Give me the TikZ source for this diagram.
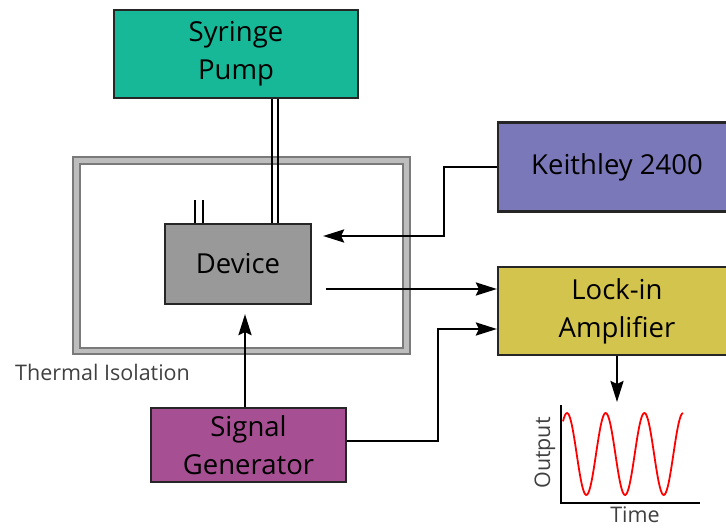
\documentclass[tikz,border=0pt]{standalone}
\usepackage{fontspec}
\setmainfont{Open Sans}
\usepackage{xcolor}
\usetikzlibrary{arrows.meta}

\definecolor{pumpgreen}{HTML}{17B897}
\definecolor{keithblue}{HTML}{7B78B9}
\definecolor{lockyellow}{HTML}{D3C44E}
\definecolor{siggen}{HTML}{A64F92}
\definecolor{devgray}{HTML}{999999}
\definecolor{isogray}{HTML}{BDBDBD}
\definecolor{isoedge}{HTML}{7A7A7A}

\begin{document}
\begin{tikzpicture}[x=1pt,y=-1pt,
    box/.style={draw=black!85,line width=2.2pt,align=center,inner sep=0pt,
      font=\fontsize{27.5}{38}\selectfont},
    arr/.style={-{Stealth[length=21pt,width=13pt,inset=3pt]},line width=2.6pt},
    small/.style={font=\fontsize{21.5}{24}\selectfont,text=black!75,inner sep=0pt}]
    \useasboundingbox (0,0) rectangle (726,529);
    \clip (0,0) rectangle (726,529);
    % thermal isolation
    \draw[isoedge,line width=1.4pt,fill=isogray,even odd rule]
      (73,157) rectangle (410,354) (80,164) rectangle (403,348);
    \node[small,anchor=west] (iso) at (15,372) {Thermal Isolation};
    % instruments
    \node[box,fill=pumpgreen,minimum width=244pt,minimum height=88pt] (pump) at (236,54) {Syringe\\Pump};
    \node[box,fill=devgray,minimum width=146pt,minimum height=80pt] (dev) at (238,264) {Device};
    \node[box,fill=keithblue,minimum width=238pt,minimum height=89pt] (kei) at (617,167) {Keithley 2400};
    \node[box,fill=lockyellow,minimum width=238pt,minimum height=88pt] (lock) at (617,311) {Lock-in\\Amplifier};
    \node[box,fill=siggen,minimum width=195pt,minimum height=74pt] (sig) at (248.5,445) {Signal\\Generator};
    % tubes
    \foreach \dx in {36,42}
      \draw[line width=1.8pt] ([xshift=\dx pt]pump.south) coordinate (t) -- (t |- dev.north);
    \foreach \dx in {-43,-35}
      \draw[line width=1.8pt] ([xshift=\dx pt]dev.north) -- ++(0,-23);
    % signals
    \coordinate (kbend) at (444,236);
    \draw[arr,shorten >=11pt] (kei.west) -| (kbend) -- (kbend -| dev.east);
    \draw[arr] ([xshift=14pt,yshift=-25pt]dev.east) coordinate (o1) -- (o1 -| lock.west);
    \draw[arr,shorten >=9pt] ([xshift=-3.5pt]sig.north) coordinate (s1) -- (s1 |- dev.south);
    \coordinate (sbend) at (438,329);
    \draw[arr] ([yshift=4pt]sig.east) -| (sbend) -- (sbend -| lock.west);
    % output trace
    \coordinate (orig) at (561,503);
    \coordinate (ytop) at (561,405);
    \coordinate (xend) at (700,503);
    \draw[arr,shorten >=3pt] (lock.south) -- (lock.south |- ytop);
    \draw[red,line width=1.8pt,domain=563:683,samples=120,smooth]
      plot (\x,{454-41*cos(9.3023*(\x-567))});
    \draw[line width=2.2pt] (ytop) -- (orig) -- (xend);
    \node[small,rotate=90] (ylab) at (545,453) {Output};
    \node[small] (xlab) at (635,515) {Time};
\end{tikzpicture}
\end{document}
